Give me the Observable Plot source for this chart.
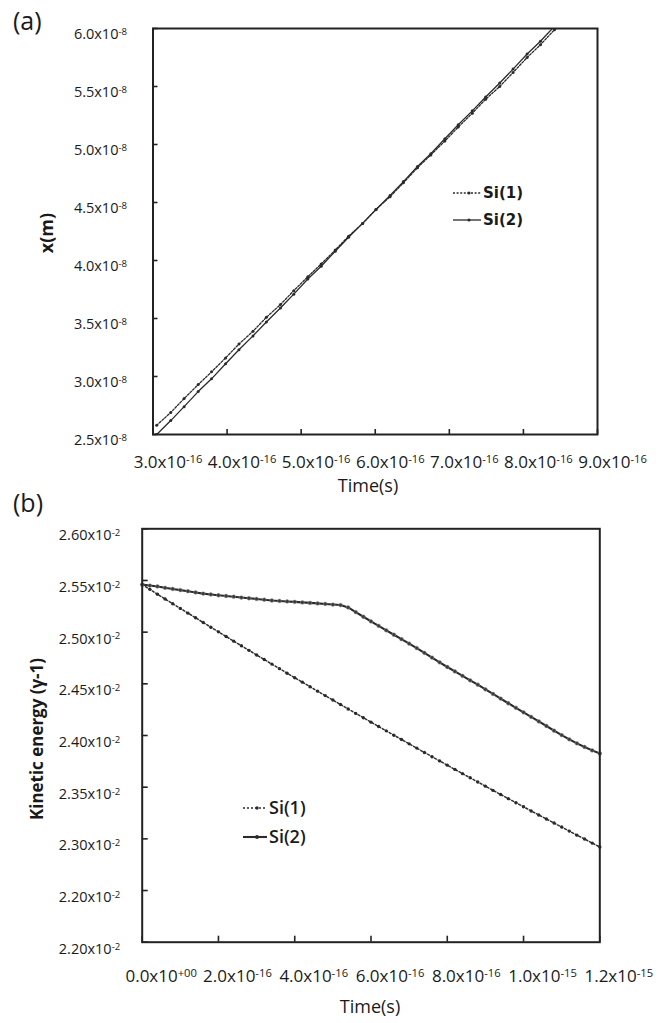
<!DOCTYPE html>
<html><head><meta charset="utf-8">
<script src="https://cdn.jsdelivr.net/npm/d3@7"></script>
<script src="https://cdn.jsdelivr.net/npm/@observablehq/plot@0.6"></script>
<style>
body{margin:0;background:#fff;}
#wrap{position:relative;width:663px;height:1023px;font-family:"Open Sans",sans-serif;color:#1a1a1a;overflow:hidden;}
.panel{position:absolute;left:0;z-index:1;}
.tag{position:absolute;font-size:25px;font-family:"Open Sans",sans-serif;z-index:3;line-height:1;}
</style></head><body><div id="wrap">
<div class="tag" style="left:13px;top:8px">(a)</div>
<div class="tag" style="left:13px;top:490px">(b)</div>
</div>
<script>
// ---------- Panel (a): position vs time ----------
// time in units of 1e-16 s, position in units of 1e-8 m
const timeA = [3.05,3.24,3.42,3.61,3.79,3.98,4.16,4.35,4.53,4.72,4.90,5.09,5.27,5.46,5.64,5.83,6.01,6.20,6.38,6.57,6.75,6.94,7.12,7.31,7.49,7.68,7.86,8.05,8.23,8.42,8.60];
const si1A = [2.58,2.69,2.81,2.93,3.04,3.16,3.28,3.39,3.51,3.62,3.74,3.86,3.97,4.09,4.21,4.32,4.44,4.55,4.67,4.80,4.91,5.03,5.15,5.27,5.39,5.50,5.62,5.75,5.86,5.99,6.11];
const si2A = [2.50,2.62,2.74,2.87,2.98,3.11,3.23,3.35,3.47,3.59,3.71,3.84,3.95,4.08,4.20,4.32,4.44,4.56,4.68,4.81,4.92,5.05,5.17,5.29,5.41,5.53,5.65,5.78,5.89,6.02,6.14];
const xTicksA = [3,4,5,6,7,8,9];
const xTickLabelsA = ["3.0x10^-16","4.0x10^-16","5.0x10^-16","6.0x10^-16","7.0x10^-16","8.0x10^-16","9.0x10^-16"];
const yTicksA = [2.5,3.0,3.5,4.0,4.5,5.0,5.5,6.0];
const yTickLabelsA = ["2.5x10^-8","3.0x10^-8","3.5x10^-8","4.0x10^-8","4.5x10^-8","5.0x10^-8","5.5x10^-8","6.0x10^-8"];

// ---------- Panel (b): kinetic energy vs time ----------
// time in units of 1e-16 s, energy in units of 1e-2
const timeB = [0,0.2,0.4,0.6,0.8,1.0,1.2,1.4,1.6,1.8,2.0,2.2,2.4,2.6,2.8,3.0,3.2,3.4,3.6,3.8,4.0,4.2,4.4,4.6,4.8,5.0,5.2,5.4,5.6,5.8,6.0,6.2,6.4,6.6,6.8,7.0,7.2,7.4,7.6,7.8,8.0,8.2,8.4,8.6,8.8,9.0,9.2,9.4,9.6,9.8,10.0,10.2,10.4,10.6,10.8,11.0,11.2,11.4,11.6,11.8,12.0];
const si1B = [2.5460,2.5414,2.5367,2.5321,2.5275,2.5230,2.5184,2.5139,2.5093,2.5048,2.5003,2.4958,2.4913,2.4868,2.4824,2.4779,2.4735,2.4691,2.4647,2.4603,2.4559,2.4516,2.4472,2.4429,2.4386,2.4343,2.4300,2.4257,2.4214,2.4172,2.4129,2.4087,2.4045,2.4003,2.3961,2.3919,2.3878,2.3836,2.3795,2.3754,2.3713,2.3672,2.3631,2.3591,2.3550,2.3510,2.3469,2.3429,2.3389,2.3350,2.3310,2.3270,2.3231,2.3192,2.3153,2.3114,2.3075,2.3036,2.2998,2.2959,2.2921];
const si2B = [2.5460,2.5451,2.5442,2.5429,2.5418,2.5407,2.5396,2.5384,2.5373,2.5365,2.5357,2.5350,2.5343,2.5335,2.5328,2.5321,2.5314,2.5306,2.5302,2.5297,2.5293,2.5288,2.5283,2.5278,2.5273,2.5267,2.5262,2.5239,2.5194,2.5149,2.5104,2.5061,2.5018,2.4975,2.4932,2.4889,2.4846,2.4800,2.4754,2.4708,2.4663,2.4620,2.4577,2.4534,2.4492,2.4447,2.4402,2.4357,2.4312,2.4268,2.4224,2.4180,2.4136,2.4092,2.4047,2.4004,2.3963,2.3924,2.3889,2.3856,2.3826];
const xTicksB = [0,2,4,6,8,10,12];
const xTickLabelsB = ["0.0x10^+00","2.0x10^-16","4.0x10^-16","6.0x10^-16","8.0x10^-16","1.0x10^-15","1.2x10^-15"];
const yTicksB = [2.20,2.25,2.30,2.35,2.40,2.45,2.50,2.55,2.60];
const yTickLabelsB = ["2.20x10^-2","2.20x10^-2","2.30x10^-2","2.35x10^-2","2.40x10^-2","2.45x10^-2","2.50x10^-2","2.55x10^-2","2.60x10^-2"];

const seriesNames = ["Si(1)","Si(2)"];

// ---------- helpers ----------
const FONT = '"Open Sans",sans-serif';
const INK = "#2b2b2b";
const rows = (t, v) => t.map((d, i) => ({t: d, v: v[i]}));
const fmt = (ticks, labels) => d => {
  const i = ticks.findIndex(k => Math.abs(k - d) < 1e-9);
  return i < 0 ? "" : labels[i];
};
function supify(svg) {
  d3.select(svg).selectAll("text").each(function () {
    const t = this.textContent;
    if (!t.includes("^")) return;
    const [base, exp] = t.split("^");
    const sel = d3.select(this);
    sel.selectAll("*").remove();
    sel.text(null);
    sel.append("tspan").text(base);
    sel.append("tspan").attr("dy", "-0.45em").attr("font-size", "0.66em").text(exp);
  });
}
function addLegend(svg, x0, x1, items, font) {
  const g = d3.select(svg).append("g").attr("text-anchor", "start");
  items.forEach(it => {
    g.append("line").attr("x1", x0).attr("x2", x1).attr("y1", it.y).attr("y2", it.y)
      .attr("stroke", INK).attr("stroke-width", it.w).attr("stroke-dasharray", it.dash || null);
    g.append("circle").attr("cx", (x0 + x1) / 2 + 2).attr("cy", it.y).attr("r", it.r).attr("fill", INK);
    g.append("text").attr("x", x1 + 2).attr("y", it.y).attr("dy", "0.36em")
      .attr("font-family", font.family).attr("font-size", font.size).attr("font-weight", font.weight)
      .attr("fill", "#1a1a1a").text(it.name);
  });
}
function addTitle(svg, x, y, text, rotate, weight, size, length) {
  const t = d3.select(svg).append("text")
    .attr("transform", `translate(${x},${y})` + (rotate ? " rotate(-90)" : ""))
    .attr("text-anchor", "middle").attr("dy", "0.35em")
    .attr("font-family", FONT).attr("font-size", size).attr("font-weight", weight)
    .attr("fill", "#1a1a1a").text(text);
  if (length) t.attr("textLength", length).attr("lengthAdjust", "spacingAndGlyphs");
}

const wrap = document.getElementById("wrap");

// ---------- Plot (a) ----------
const plotA = Plot.plot({
  width: 663, height: 490,
  marginLeft: 152.5, marginRight: 66, marginTop: 28, marginBottom: 56,
  x: {domain: [3, 9]},
  y: {domain: [2.5, 6.0]},
  style: {fontFamily: FONT, fontSize: "17px", color: "#1a1a1a", background: "transparent", overflow: "visible"},
  marks: [
    Plot.line(rows(timeA, si2A), {x: "t", y: "v", stroke: INK, strokeWidth: 1.3, clip: true}),
    Plot.line(rows(timeA, si1A), {x: "t", y: "v", stroke: INK, strokeWidth: 1.3, strokeDasharray: "2,1.6", clip: true}),
    Plot.dot(rows(timeA, si2A), {x: "t", y: "v", r: 1.5, fill: INK, clip: true}),
    Plot.dot(rows(timeA, si1A), {x: "t", y: "v", r: 1.5, fill: INK, clip: true}),
    Plot.axisX({ticks: xTicksA, tickSize: 5, dy: -5, strokeWidth: 1.6, stroke: "#222", tickFormat: () => "", label: null}),
    Plot.axisY({ticks: yTicksA, tickSize: 5, dx: 5, strokeWidth: 1.6, stroke: "#222", tickFormat: () => "", label: null}),
    Plot.axisX({ticks: xTicksA, tickSize: 0, tickPadding: 21, dx: 15, tickFormat: fmt(xTicksA, xTickLabelsA), label: null}),
    Plot.axisY({ticks: yTicksA, tickSize: 0, tickPadding: 26, dy: 6, fontSize: 14.5, tickFormat: fmt(yTicksA, yTickLabelsA), label: null}),
    Plot.frame({stroke: "#222", strokeWidth: 2})
  ]
});
plotA.classList.add("panel");
plotA.style.top = "0px";
wrap.appendChild(plotA);
supify(plotA);
addLegend(plotA, 453, 481, [
  {name: seriesNames[0], y: 193, w: 1.3, dash: "2,1.6", r: 1.6},
  {name: seriesNames[1], y: 220, w: 1.3, r: 1.6}
], {family: '"DejaVu Sans",sans-serif', size: 15, weight: "bold"});
addTitle(plotA, 47, 233, "x(m)", true, "bold", 18, null);
addTitle(plotA, 368, 486, "Time(s)", false, "normal", 18, null);

// ---------- Plot (b) ----------
const plotB = Plot.plot({
  width: 663, height: 533,
  marginLeft: 141.7, marginRight: 63.7, marginTop: 38.3, marginBottom: 81.3,
  x: {domain: [0, 12]},
  y: {domain: [2.20, 2.60]},
  style: {fontFamily: FONT, fontSize: "17px", color: "#1a1a1a", background: "transparent", overflow: "visible"},
  marks: [
    Plot.line(rows(timeB, si1B), {x: "t", y: "v", stroke: "#2e2e2e", strokeWidth: 1.5, strokeDasharray: "2,2"}),
    Plot.dot(rows(timeB, si1B), {x: "t", y: "v", r: 1.7, fill: "#2a2a2a"}),
    Plot.line(rows(timeB, si2B), {x: "t", y: "v", stroke: "#2a2a2a", strokeWidth: 2.1}),
    Plot.dot(rows(timeB, si2B), {x: "t", y: "v", r: 1.9, fill: "#3a3a3a", stroke: "#9a9a9a", strokeWidth: 0.5}),
    Plot.axisX({ticks: xTicksB, tickSize: 6, dy: -6, strokeWidth: 1.6, stroke: "#222", tickFormat: () => "", label: null}),
    Plot.axisY({ticks: yTicksB, tickSize: 6, dx: 6, strokeWidth: 1.6, stroke: "#222", tickFormat: () => "", label: null}),
    Plot.axisX({ticks: xTicksB, tickSize: 0, tickPadding: 28, dx: 19, tickFormat: fmt(xTicksB, xTickLabelsB), label: null}),
    Plot.axisY({ticks: yTicksB, tickSize: 0, tickPadding: 22, dy: 7, fontSize: 14.5, tickFormat: fmt(yTicksB, yTickLabelsB), label: null}),
    Plot.frame({stroke: "#222", strokeWidth: 2})
  ]
});
plotB.classList.add("panel");
plotB.style.top = "490px";
wrap.appendChild(plotB);
supify(plotB);
addLegend(plotB, 243, 267, [
  {name: seriesNames[0], y: 318, w: 1.5, dash: "2,2", r: 1.7},
  {name: seriesNames[1], y: 347, w: 2.1, r: 1.9}
], {family: FONT, size: 18, weight: "600"});
addTitle(plotB, 37, 249, "Kinetic energy (\u03b3-1)", true, "bold", 17, 162);
addTitle(plotB, 370, 517, "Time(s)", false, "normal", 18, null);
</script>
</body></html>
